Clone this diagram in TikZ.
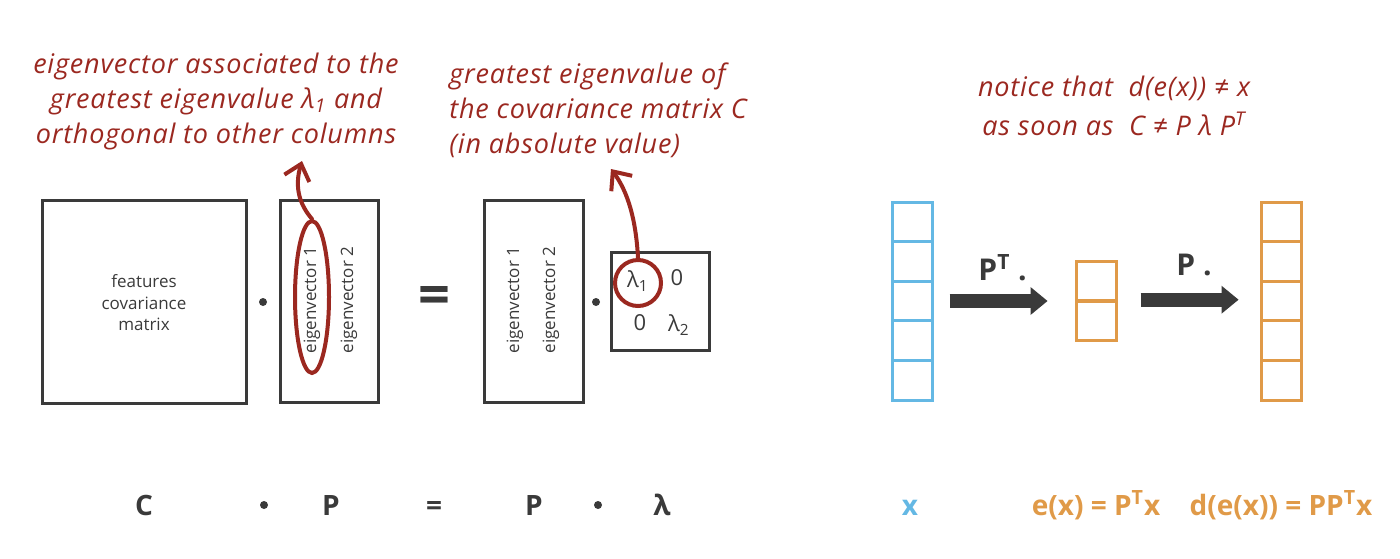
\documentclass[tikz,border=0pt]{standalone}
\usepackage{fontspec}
\setmainfont{Open Sans}
\newfontfamily\handfont{Open Sans}[LetterSpace=3]
\usetikzlibrary{arrows.meta,shapes.geometric}
\definecolor{inkred}{RGB}{155,40,32}
\definecolor{boxgray}{RGB}{58,58,58}
\definecolor{vecblue}{RGB}{100,184,228}
\definecolor{vecorange}{RGB}{224,154,72}

\begin{document}
\begin{tikzpicture}[x=0.5pt, y=-0.5pt,
    mat/.style={draw=boxgray, line width=1.5pt, inner sep=0pt},
    lbl/.style={text=boxgray, font=\fontsize{8.5}{10.75}\selectfont, align=center},
    vlbl/.style={lbl, rotate=90},
    ent/.style={text=boxgray, font=\fontsize{11}{12}\selectfont, inner sep=0pt},
    big/.style={text=boxgray, font=\bfseries\fontsize{14}{16}\selectfont, inner sep=0pt},
    note/.style={text=inkred, font=\handfont\itshape\fontsize{13.5}{17.5}\selectfont, inner sep=0pt},
    ring/.style={draw=inkred, line width=2pt, inner sep=0pt},
    pointer/.style={draw=inkred, line width=2pt, line cap=round,
        -{Straight Barb[length=7.5pt,width=13pt]}},
    dotop/.style={circle, fill=boxgray, inner sep=0pt, minimum size=4pt},
    bluecell/.style={draw=vecblue, line width=1.5pt, minimum width=20pt,
        minimum height=19.8pt, inner sep=0pt},
    orangecell/.style={bluecell, draw=vecorange},
    block/.style={draw=boxgray, line width=7pt,
        -{Triangle[length=8.5pt,width=14pt,line width=0pt]}}
]
    \useasboundingbox (0,0) rectangle (1400,558);

    % C . P = P . lambda
    \node[mat, minimum width=102pt, minimum height=101.5pt] (covbox) at (144,302) {};
    \node[lbl] (covtext) at (144,303) {features\\covariance\\matrix};
    \node[dotop] (dot1) at (263,302) {};
    \node[mat, minimum width=49pt, minimum height=101pt] (pbox) at (329,301) {};
    \node[vlbl] (pev1) at (312,300) {eigenvector 1};
    \node[vlbl] (pev2) at (349,300) {eigenvector 2};
    \node[big, font=\bfseries\fontsize{28}{30}\selectfont] (eqsign) at (434,300) {=};
    \node[mat, minimum width=49.5pt, minimum height=101pt] (qbox) at (533.5,301) {};
    \node[vlbl] (qev1) at (515,300) {eigenvector 1};
    \node[vlbl] (qev2) at (551,300) {eigenvector 2};
    \node[dotop] (dot2) at (596,302) {};
    \node[mat, minimum size=49pt] (lambox) at (660,301) {};
    \node[ent] (e11) at (638,281) {λ\textsubscript{1}};
    \node[ent] (e12) at (677,278) {0};
    \node[ent] (e21) at (640,323) {0};
    \node[ent] (e22) at (679,325) {λ\textsubscript{2}};

    % red rings
    \node[ring, ellipse, minimum width=17pt, minimum height=76pt] (ev1ring) at (312,297) {};
    \node[ring, circle, minimum size=23pt] (lam1ring) at (638,283) {};

    % notes
    \node[note, align=center] (note1) at (216,101)
        {eigenvector associated to the\\greatest eigenvalue λ\textsubscript{1} and\\orthogonal to other columns};
    \coordinate (note1tip) at (302,161);
    \draw[pointer] (ev1ring.north) .. controls (300,205) and (294,188) .. (note1tip);

    \node[note, align=left, anchor=west] (note2) at (449,110)
        {greatest eigenvalue of\\the covariance matrix C\\(in absolute value)};
    \coordinate (note2tip) at (611,169);
    \draw[pointer] (lam1ring.north) .. controls (636,220) and (628,192) .. (note2tip);

    \node[note, align=center, font=\handfont\itshape\fontsize{13.5}{19.5}\selectfont] (note3) at (1114,106)
        {notice that\ \ d(e(x)) ≠ x\\as soon as\ \ C ≠ P λ P\textsuperscript{T}};

    % encode / decode columns
    \foreach \i in {0,...,4} {
        \node[bluecell] (x\i) at (912,{221.8+\i*39.6}) {};
        \node[orangecell] (z\i) at (1281,{221.8+\i*39.6}) {};
    }
    \node[orangecell] (y0) at (1096,281) {};
    \node[orangecell] (y1) at (1096,321) {};

    \draw[block] ([xshift=8pt]x2.east) -- ([xshift=-13.5pt]y0.west |- x2.east);
    \draw[block] ([xshift=11.5pt]y1.north east) -- ([xshift=-10.5pt]z2.west |- y1.north east);
    \node[big, anchor=base west, font=\bfseries\fontsize{15}{16}\selectfont] (enclbl) at (978,280) {P\textsuperscript{T} .};
    \node[big, anchor=base west, font=\bfseries\fontsize{15}{16}\selectfont] (declbl) at (1176,275) {P .};

    % bottom line
    \node[big, anchor=base] (cname) at (144,515) {C};
    \node[dotop] (dot3) at (264,505) {};
    \node[big, anchor=base] (pname) at (331,515) {P};
    \node[big, anchor=base] (eqname) at (434,515) {=};
    \node[big, anchor=base] (pname2) at (534,515) {P};
    \node[dotop] (dot4) at (598,505) {};
    \node[big, anchor=base] (lamname) at (662,515) {λ};
    \node[big, anchor=base, text=vecblue] (xname) at (910,515) {x};
    \node[big, anchor=base, text=vecorange] (encname) at (1096,515) {e(x) = P\textsuperscript{T}x};
    \node[big, anchor=base, text=vecorange] (decname) at (1281,515) {d(e(x)) = PP\textsuperscript{T}x};
\end{tikzpicture}
\end{document}
